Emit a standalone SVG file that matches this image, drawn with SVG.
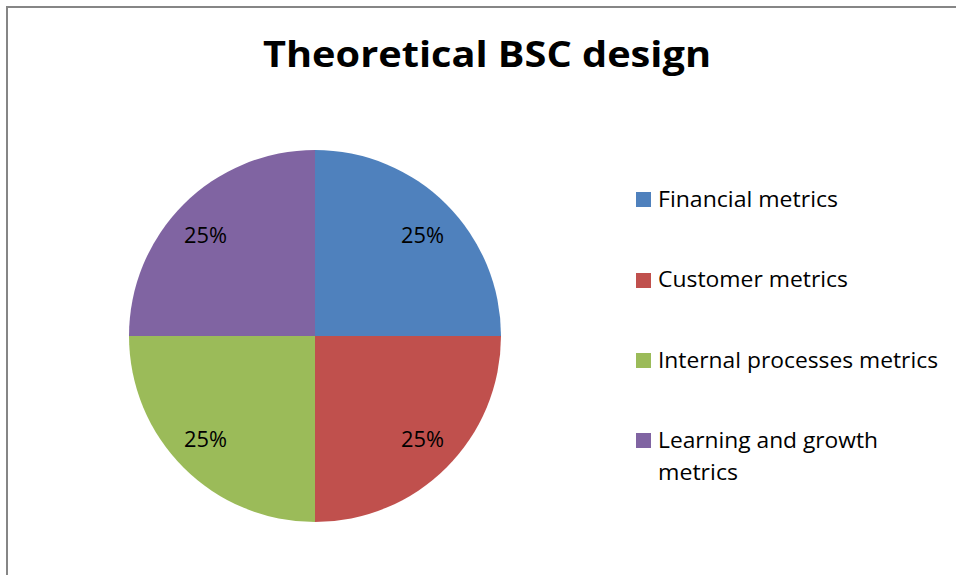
<svg xmlns="http://www.w3.org/2000/svg" width="956" height="575" viewBox="0 0 956 575">
<style>
.lbl{font-family:"Open Sans","Liberation Sans",sans-serif;font-size:21px;fill:#000}
.leg{font-family:"Open Sans","Liberation Sans",sans-serif;font-size:21px;fill:#000}
.title{font-family:"Open Sans","Liberation Sans",sans-serif;font-size:35px;font-weight:bold;fill:#000}
</style>
<rect width="956" height="575" fill="#fff"/>
<path d="M7,575 V7 H956" fill="none" stroke="#868686" stroke-width="2"/>
<text class="title" x="263" y="67" textLength="448" lengthAdjust="spacingAndGlyphs">Theoretical BSC design</text>
<g id="pie">
<g id="slice-financial"><path d="M315,336 V150 A186,186 0 0 1 501,336 Z" fill="#4F81BD"/><text class="lbl" x="401" y="243" textLength="43" lengthAdjust="spacingAndGlyphs">25%</text></g>
<g id="slice-customer"><path d="M315,336 H501 A186,186 0 0 1 315,522 Z" fill="#C0504D"/><text class="lbl" x="401" y="447" textLength="43" lengthAdjust="spacingAndGlyphs">25%</text></g>
<g id="slice-internal"><path d="M315,336 V522 A186,186 0 0 1 129,336 Z" fill="#9BBB59"/><text class="lbl" x="184" y="447" textLength="43" lengthAdjust="spacingAndGlyphs">25%</text></g>
<g id="slice-learning"><path d="M315,336 H129 A186,186 0 0 1 315,150 Z" fill="#8064A2"/><text class="lbl" x="184" y="243" textLength="43" lengthAdjust="spacingAndGlyphs">25%</text></g>
</g>
<g id="legend">
<g id="leg-financial"><rect x="636" y="192" width="15" height="15" fill="#4F81BD"/><text class="leg" x="658" y="207" textLength="180" lengthAdjust="spacingAndGlyphs">Financial metrics</text></g>
<g id="leg-customer"><rect x="636" y="273" width="15" height="15" fill="#C0504D"/><text class="leg" x="658" y="287" textLength="190" lengthAdjust="spacingAndGlyphs">Customer metrics</text></g>
<g id="leg-internal"><rect x="636" y="353" width="15" height="15" fill="#9BBB59"/><text class="leg" x="658" y="368" textLength="280" lengthAdjust="spacingAndGlyphs">Internal processes metrics</text></g>
<g id="leg-learning"><rect x="636" y="433" width="15" height="15" fill="#8064A2"/><text class="leg" x="658" y="448" textLength="220" lengthAdjust="spacingAndGlyphs">Learning and growth</text><text class="leg" x="658" y="480" textLength="80" lengthAdjust="spacingAndGlyphs">metrics</text></g>
</g>
</svg>
